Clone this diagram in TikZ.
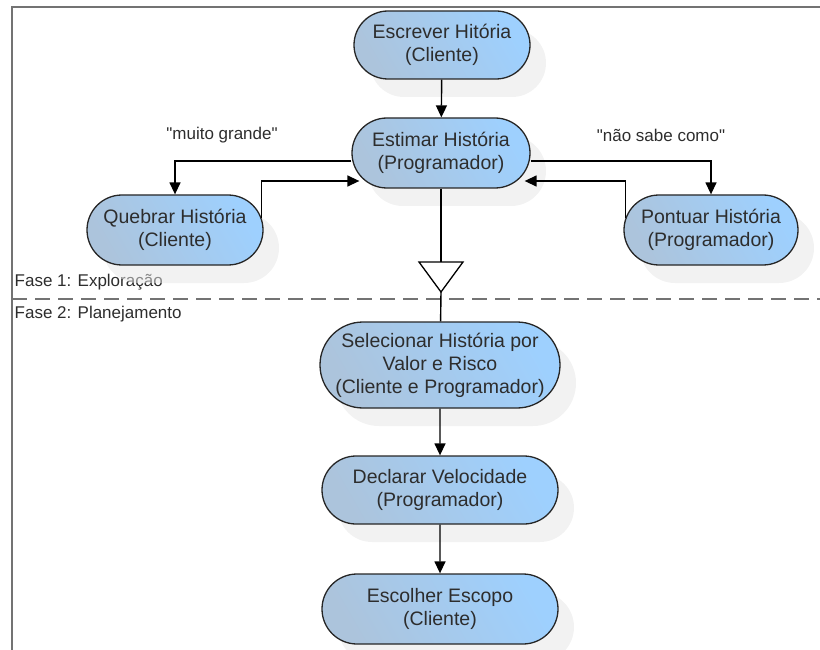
\documentclass[tikz,border=0pt]{standalone}
\usepackage{fontspec}
\setmainfont{Liberation Sans}
\newfontfamily\lblfont{Liberation Sans}
\usetikzlibrary{arrows.meta,shapes.misc,shadows}
\definecolor{actL}{RGB}{172,196,220}
\definecolor{actR}{RGB}{158,208,254}
\definecolor{txt}{RGB}{45,45,45}
\begin{document}
\begin{tikzpicture}[x=1pt,y=-1pt,line width=1.4pt]
\tikzset{ >={Triangle[length=12pt,width=11pt]},
  act/.style={rounded rectangle, draw=black!85, line width=1.3pt,
    left color=actL, right color=actR, shading angle=120, text=txt, align=center,
    font=\fontsize{19.5}{23}\selectfont, inner sep=2pt,
    drop shadow={shadow xshift=16pt, shadow yshift=-18pt, fill=black!10, draw=none}},
  lbl/.style={text=txt, font=\lblfont\fontsize{17}{20}\selectfont, inner sep=0pt},
}
\useasboundingbox (0,0) rectangle (820,650);
%\draw [lightgray, dashed](0,0) grid[step=50] (820,650);

% frame and phase line
\draw [black!55, line width=2pt] (12,650) -- (12,7) -- (820,7);
\draw [black!55, line width=2.4pt, dash pattern=on 15pt off 8pt] (12,299) -- (820,299);

\node [lbl, anchor=west] (F1) at (14,282) {Fase 1: Exploração};
\node [lbl, anchor=west] (F2) at (14,314) {Fase 2: Planejamento};

\node [act, minimum width=180pt, minimum height=68pt] (ESC)  at (442,45)  {Escrever Hitória\\(Cliente)};
\node [act, minimum width=182pt, minimum height=70pt] (EST)  at (441,153) {Estimar História\\(Programador)};
\node [act, minimum width=180pt, minimum height=70pt] (QUEB) at (175,230) {Quebrar História\\(Cliente)};
\node [act, minimum width=178pt, minimum height=70pt] (PONT) at (711,230) {Pontuar História\\(Programador)};
\node [act, minimum width=244pt, minimum height=86pt] (SEL)  at (440,365) {Selecionar História por\\Valor e Risco\\(Cliente e Programador)};
\node [act, minimum width=240pt, minimum height=68pt] (DECL) at (440,490) {Declarar Velocidade\\(Programador)};
\node [act, minimum width=240pt, minimum height=70pt] (ESCO) at (440,609) {Escolher Escopo\\(Cliente)};

\coordinate (TL) at (419,262);
\coordinate (TR) at (463,262);
\coordinate (TA) at (441,292);
\coordinate (TT) at (441,262);

\draw [->] (ESC) -- (EST);

\draw [->] ([yshift=-8pt]EST.west) -| (QUEB.north);
\draw [->] ([xshift=-2pt,yshift=12pt]QUEB.east) |- ([xshift=8pt,yshift=-28pt]EST.west);
\draw [->] ([yshift=-8pt]EST.east) -| (PONT.north);
\draw [->] ([xshift=2pt,yshift=12pt]PONT.west) |- ([xshift=-6pt,yshift=-28pt]EST.east);

\node [lbl] (MG) at (222,135) {"muito grande"};
\node [lbl] (NS) at (661,135) {"não sabe como"};

\draw (EST) -- (TT);
\draw [fill=white, line width=1.3pt, line join=miter] (TL) -- (TR) -- (TA) -- cycle;
\draw (TA) -- (SEL);

\draw [->] (SEL) -- (DECL);
\draw [->] (DECL) -- (ESCO);

\end{tikzpicture}
\end{document}
